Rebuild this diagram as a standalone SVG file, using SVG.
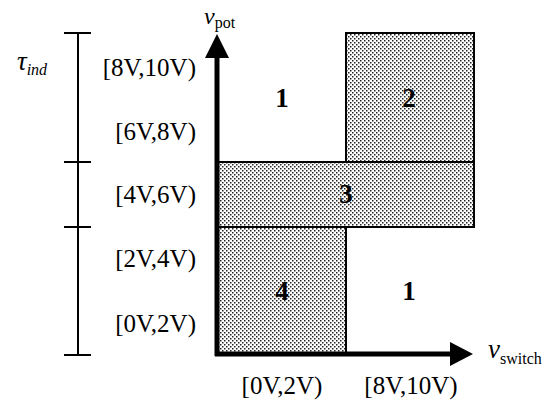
<svg xmlns="http://www.w3.org/2000/svg" width="557" height="400" viewBox="0 0 557 400">
<style>
.t{font-family:"Liberation Serif","DejaVu Serif",serif;font-size:25px;fill:#000}
.n{font-family:"Liberation Serif","DejaVu Serif",serif;font-size:27px;font-weight:bold;fill:#000}
.i{font-style:italic}
.v{font-size:27px}
.s{font-size:16px}
.reg{fill:url(#dots);stroke:#000;stroke-width:2}
.tick{stroke:#000;stroke-width:2;fill:none}
.ax{stroke:#000;stroke-width:5;fill:none}
</style>
<defs>
<pattern id="dots" width="4" height="4" patternUnits="userSpaceOnUse">
<rect width="4" height="4" fill="#ffffff"/>
<rect x="0" y="0" width="1.5" height="1.5" fill="#222"/>
<rect x="2" y="2" width="1.5" height="1.5" fill="#222"/>
</pattern>
</defs>
<g id="region2"><rect class="reg" x="346" y="33" width="128" height="129"/><text class="n" x="409" y="107" text-anchor="middle">2</text></g>
<g id="region3"><rect class="reg" x="217" y="162" width="257" height="65"/><text class="n" x="346" y="203" text-anchor="middle">3</text></g>
<g id="region4"><rect class="reg" x="217" y="227" width="129" height="127"/><text class="n" x="282" y="300" text-anchor="middle">4</text></g>
<g id="region1a"><text class="n" x="282" y="107" text-anchor="middle">1</text></g>
<g id="region1b"><text class="n" x="409" y="300" text-anchor="middle">1</text></g>
<g id="axes">
<line class="ax" x1="217" y1="356" x2="217" y2="55"/>
<polygon points="217,34 205,58 229,58" fill="#000"/>
<line class="ax" x1="215" y1="354" x2="452" y2="354"/>
<polygon points="473,354 450,342 450,366" fill="#000"/>
</g>
<g id="bracket">
<line class="tick" x1="78" y1="33" x2="78" y2="355"/>
<line class="tick" x1="64" y1="33" x2="91" y2="33"/>
<line class="tick" x1="64" y1="162" x2="91" y2="162"/>
<line class="tick" x1="64" y1="227" x2="91" y2="227"/>
<line class="tick" x1="64" y1="355" x2="91" y2="355"/>
</g>
<g id="labels">
<text class="t i" x="17" y="70"><tspan class="v">τ</tspan><tspan class="s" dy="5">ind</tspan></text>
<text class="t" x="196" y="76" text-anchor="end">[8V,10V)</text>
<text class="t" x="196" y="140" text-anchor="end">[6V,8V)</text>
<text class="t" x="196" y="203" text-anchor="end">[4V,6V)</text>
<text class="t" x="196" y="267" text-anchor="end">[2V,4V)</text>
<text class="t" x="196" y="332" text-anchor="end">[0V,2V)</text>
<text class="t" x="282" y="394" text-anchor="middle">[0V,2V)</text>
<text class="t" x="411" y="394" text-anchor="middle">[8V,10V)</text>
<text class="t" x="204" y="24" style="font-size:24px"><tspan class="i" style="font-size:24px">v</tspan><tspan class="s" dy="4">pot</tspan></text>
<text class="t" x="488" y="358"><tspan class="i v">v</tspan><tspan class="s" dy="6">switch</tspan></text>
</g>
</svg>
